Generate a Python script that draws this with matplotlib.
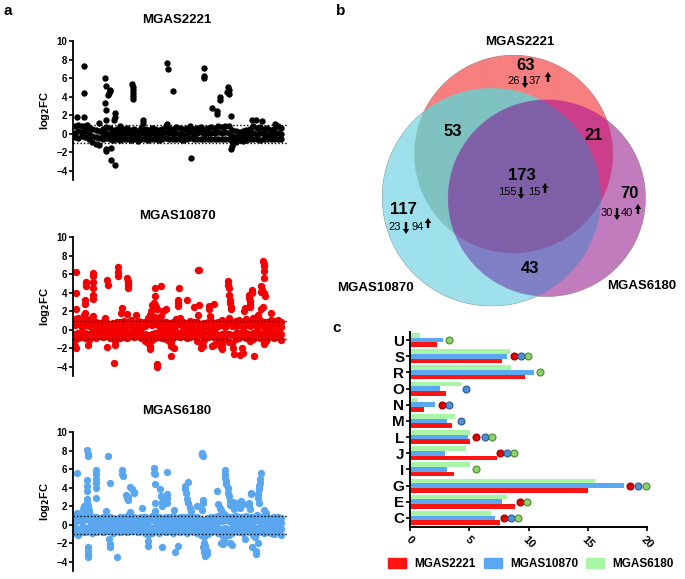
import numpy as np
import matplotlib
matplotlib.use("Agg")
import matplotlib.pyplot as plt
from matplotlib.patches import Patch, FancyArrow

plt.rcParams['font.family'] = ['Liberation Sans', 'DejaVu Sans']

W, H = 685, 579

# ---- panel a: log2 fold change per gene (band = bulk of genes, out = outliers)
a1_hi = [0.8, 1.0, 0.9, 0.9, 0.6, 0.5, 0.4, 0.3, 0.5, 0.7, 0.6, 0.4, 0.5, 0.4, 0.5, 0.6, 0.4, 0.5, 0.3, 0.6,
         0.5, 0.4, 0.6, 0.5, 0.4, 0.5, 0.9, 0.6, 0.5, 0.7, 0.6, 0.5, 0.6, 0.8, 0.5, 0.6, 0.7, 0.5, 0.6, 0.7,
         0.6, 0.8, 0.7, 0.9, 0.8, 0.4, 0.3, 0.2, 0.3, 0.4, 0.5, 0.8, 0.6, 0.7, 0.5, 0.6, 0.4, 0.5, 0.8, 0.6]
a1_mid = [0.1, 0.3, 0.2, 0.3, 0.0, -0.2, -0.3, -0.4, 0.0, 0.1, 0.0, -0.1, 0.0, -0.1, 0.0, 0.1, -0.1, 0.0, -0.2, 0.1,
          0.0, -0.1, 0.1, 0.0, -0.1, 0.0, 0.2, 0.1, 0.0, 0.1, 0.0, -0.1, 0.1, 0.2, 0.0, 0.1, 0.2, 0.0, 0.1, 0.1,
          0.1, 0.2, 0.1, 0.2, 0.1, -0.2, -0.3, -0.3, -0.2, -0.1, 0.0, 0.1, 0.0, 0.1, 0.0, 0.0, -0.1, 0.0, 0.1, 0.0]
a1_lo = [-0.3, -0.4, -0.2, -0.3, -0.6, -0.9, -1.1, -1.2, -0.5, -0.4, -0.5, -0.7, -0.6, -0.7, -0.6, -0.5, -0.7, -0.6, -0.8, -0.5,
         -0.6, -0.7, -0.5, -0.6, -0.7, -0.6, -0.4, -0.5, -0.6, -0.5, -0.6, -0.7, -0.5, -0.4, -0.6, -0.5, -0.5, -0.6, -0.5, -0.6,
         -0.5, -0.6, -0.5, -0.6, -0.6, -0.8, -0.9, -0.7, -0.8, -0.7, -0.6, -0.6, -0.5, -0.7, -0.6, -0.5, -0.6, -0.5, -0.6, -0.5]
a1_out_x = [0.7, 2.7, 2.7, 2.7, 6.9, 8.6, 8.8, 8.5, 8.8, 9.0, 9.6, 9.8, 10.0, 10.2, 11.4, 11.5, 11.3, 8.8, 9.0, 10.4,
            10.3, 11.4, 16.4, 16.5, 16.6, 16.6, 16.7, 16.7, 19.4, 19.5, 26.4, 26.6, 28.1, 36.8, 37.0, 37.0, 39.3, 40.5, 40.7, 41.6,
            41.6, 43.7, 43.9, 43.9, 43.6, 44.5, 44.8, 44.6, 33.2, 50.6, 51.8, 53.4, 57.2, 26.3, 3.5, 13.0]
a1_out_y = [1.85, 7.28, 4.38, 1.85, 1.2, 6.05, 5.2, 3.3, 2.57, 1.5, 4.2, 4.4, 4.6, 4.7, 2.2, 1.85, 1.5, -1.67, -1.85, -1.5,
            -2.86, -3.4, 5.33, 5.0, 4.7, 4.4, 4.1, 3.8, 1.5, 1.2, 7.68, 6.96, 4.64, 7.07, 6.27, 6.05, 2.75, 2.5, 2.14, 3.95,
            3.6, 5.0, 4.67, 4.3, 4.5, 1.95, -1.3, -1.67, -2.57, 1.5, 1.5, 1.4, 1.1, 1.1, 1.0, 0.9]

a2_hi = [1.2, 1.3, 0.9, 1.3, 1.1, 1.3, 0.8, 0.7, 0.9, 0.8, 0.6, 0.7, 0.8, 0.9, 1.0, 0.9, 1.1, 0.7, 1.0, 0.8,
         0.9, 1.3, 1.2, 1.4, 1.0, 0.9, 0.8, 0.7, 0.9, 1.2, 1.3, 0.8, 0.7, 1.0, 0.9, 0.8, 0.6, 0.7, 0.9, 1.0,
         0.7, 0.9, 1.1, 0.8, 1.3, 0.9, 1.0, 1.1, 0.8, 1.2, 0.9, 1.3, 0.8, 1.1, 0.8, 0.9, 1.1, 1.0, 1.1, 0.9]
a2_mhi = [0.5, 0.6, 0.3, 0.5, 0.4, 0.6, 0.3, 0.2, 0.4, 0.3, 0.2, 0.3, 0.4, 0.3, 0.5, 0.4, 0.5, 0.3, 0.4, 0.2,
          0.4, 0.6, 0.5, 0.6, 0.4, 0.3, 0.3, 0.2, 0.4, 0.5, 0.6, 0.3, 0.2, 0.4, 0.4, 0.3, 0.1, 0.3, 0.4, 0.4,
          0.2, 0.4, 0.5, 0.3, 0.6, 0.4, 0.4, 0.5, 0.3, 0.5, 0.4, 0.6, 0.3, 0.5, 0.3, 0.4, 0.5, 0.4, 0.5, 0.3]
a2_mlo = [-0.4, -0.3, -0.2, -0.3, -0.4, -0.2, -0.3, -0.2, -0.3, -0.2, -0.3, -0.3, -0.2, -0.3, -0.2, -0.3, -0.2, -0.3, -0.2, -0.3,
          -0.4, -0.5, -0.4, -0.3, -0.2, -0.3, -0.3, -0.4, -0.3, -0.2, -0.3, -0.2, -0.3, -0.3, -0.2, -0.4, -0.5, -0.4, -0.3, -0.2,
          -0.3, -0.5, -0.4, -0.3, -0.4, -0.5, -0.3, -0.3, -0.2, -0.3, -0.4, -0.3, -0.2, -0.3, -0.4, -0.3, -0.2, -0.3, -0.2, -0.4]
a2_lo = [-1.1, -0.9, -0.8, -0.9, -1.1, -0.8, -0.9, -0.7, -0.8, -0.7, -0.9, -0.8, -0.7, -0.9, -0.8, -0.9, -0.7, -0.8, -0.7, -0.9,
         -1.2, -1.4, -1.1, -0.9, -0.8, -0.9, -1.0, -1.2, -0.9, -0.7, -0.8, -0.7, -0.9, -0.8, -0.7, -1.2, -1.4, -1.1, -0.8, -0.7,
         -0.9, -1.4, -1.2, -0.9, -1.3, -1.4, -1.0, -0.9, -0.7, -0.9, -1.2, -1.0, -0.8, -0.9, -1.2, -1.0, -0.7, -0.9, -0.8, -1.1]
a2_out_x = [0.4, 0.4, 0.4, 0.0, 0.4, 3.1, 3.2, 3.3, 2.9, 2.9, 2.9, 2.5, 5.2, 5.2, 5.2, 5.3, 5.3, 5.3, 5.3, 3.9,
            8.6, 9.1, 9.6, 9.1, 11.3, 11.4, 11.6, 12.3, 12.4, 12.4, 13.2, 13.6, 15.0, 15.1, 15.1, 15.2, 15.2, 15.0, 17.6, 21.6,
            21.8, 22.0, 22.5, 22.8, 23.1, 23.4, 21.6, 21.6, 23.0, 23.0, 23.6, 23.5, 24.7, 25.3, 26.1, 24.7, 27.6, 27.4, 27.6, 28.3,
            29.5, 29.6, 29.6, 29.8, 32.1, 34.0, 35.2, 35.4, 35.1, 35.6, 36.0, 36.5, 36.0, 38.3, 38.3, 38.6, 39.9, 39.2, 39.7, 41.9,
            42.1, 41.7, 43.7, 43.7, 44.0, 44.2, 44.4, 44.7, 44.7, 44.0, 45.2, 45.5, 47.1, 48.3, 48.6, 48.1, 47.8, 49.8, 49.8, 50.0,
            50.1, 50.1, 50.5, 50.6, 51.1, 52.1, 52.3, 53.1, 53.4, 53.1, 53.7, 53.9, 54.0, 54.0, 54.0, 53.7, 53.2, 53.9, 54.2, 56.0,
            54.6, 54.1]
a2_out_y = [6.2, 3.94, 2.3, -1.76, -1.94, 5.2, 4.95, 4.7, 3.26, 2.8, 1.8, 1.6, 6.1, 5.85, 5.2, 4.5, 3.8, 3.3, 1.47, -1.65,
            1.3, 5.4, 4.87, -1.86, -3.55, -1.2, -1.58, 6.77, 6.27, 5.77, 1.83, 2.37, 5.6, 5.3, 5.05, 4.8, 4.5, 1.7, 1.58, 1.65,
            2.0, 2.72, 2.9, 2.65, 2.44, 2.2, -1.76, -2.1, 4.5, 3.6, -3.65, -4.0, 4.7, 2.0, 2.3, 1.47, -2.83, -1.76, -1.4, -1.94,
            3.26, 2.9, 2.54, 4.5, 3.26, 2.44, 6.5, 6.4, 1.65, 2.65, -1.4, -1.76, -1.94, 2.54, 2.2, 1.47, 2.8, -1.76, -1.58, -2.1,
            -1.58, -1.86, 5.23, 4.87, 4.5, 3.26, 2.9, 2.44, 2.2, 3.8, -1.94, -2.65, -2.7, 2.08, 2.37, -2.47, -1.94, 3.8, 3.44, 3.08,
            2.8, 2.47, 4.34, 3.98, -2.83, 1.1, 1.6, 4.7, 4.34, 4.1, 7.38, 7.1, 6.85, 6.3, 5.6, 2.47, 2.3, 3.98, 3.6, 1.83,
            -1.2, -1.5]

a3_hi = [0.9, 1.2, 0.8, 1.4, 1.3, 0.9, 0.8, 0.7, 0.8, 0.7, 0.8, 0.7, 0.6, 0.9, 0.8, 0.9, 1.0, 0.8, 0.7, 0.9,
         0.8, 0.7, 1.0, 0.9, 0.8, 0.7, 0.9, 0.8, 1.0, 0.7, 0.8, 0.9, 0.8, 1.0, 0.9, 0.8, 0.6, 0.5, 0.7, 0.8,
         0.9, 1.0, 0.9, 1.1, 0.9, 0.8, 1.0, 0.9, 0.8, 1.0, 0.9, 0.8, 1.1, 0.9, 1.0, 0.8, 0.7, 0.8, 0.9, 0.7]
a3_mhi = [0.3, 0.5, 0.3, 0.6, 0.5, 0.4, 0.3, 0.3, 0.4, 0.3, 0.4, 0.3, 0.2, 0.4, 0.3, 0.4, 0.5, 0.3, 0.3, 0.4,
          0.3, 0.3, 0.5, 0.4, 0.3, 0.3, 0.4, 0.3, 0.4, 0.3, 0.3, 0.4, 0.3, 0.4, 0.4, 0.3, 0.2, 0.1, 0.3, 0.3,
          0.4, 0.4, 0.4, 0.5, 0.4, 0.3, 0.4, 0.4, 0.3, 0.4, 0.4, 0.3, 0.5, 0.4, 0.4, 0.3, 0.2, 0.3, 0.3, 0.2]
a3_mlo = [-0.3, -0.4, -0.3, -0.3, -0.2, -0.3, -0.3, -0.2, -0.3, -0.2, -0.2, -0.3, -0.2, -0.3, -0.2, -0.3, -0.2, -0.2, -0.3, -0.2,
          -0.3, -0.4, -0.3, -0.2, -0.3, -0.2, -0.3, -0.2, -0.3, -0.2, -0.3, -0.2, -0.3, -0.2, -0.3, -0.3, -0.5, -0.6, -0.4, -0.3,
          -0.2, -0.3, -0.4, -0.3, -0.4, -0.3, -0.2, -0.3, -0.3, -0.2, -0.3, -0.4, -0.3, -0.2, -0.3, -0.3, -0.3, -0.4, -0.3, -0.4]
a3_lo = [-0.9, -1.1, -0.8, -0.8, -0.7, -0.9, -0.8, -0.7, -0.8, -0.7, -0.7, -0.9, -0.7, -0.8, -0.7, -0.8, -0.7, -0.7, -0.8, -0.7,
         -0.9, -1.1, -0.9, -0.7, -0.9, -0.7, -0.8, -0.7, -0.9, -0.7, -0.8, -0.7, -0.9, -0.7, -0.8, -0.9, -1.1, -1.3, -1.0, -0.8,
         -0.7, -0.9, -1.1, -0.8, -1.1, -0.9, -0.7, -0.8, -0.9, -0.7, -0.8, -1.1, -0.9, -0.7, -0.9, -0.8, -0.9, -1.0, -0.8, -1.1]
a3_out_x = [0.7, 0.7, 3.5, 3.7, 3.7, 3.4, 3.4, 3.4, 3.5, 3.6, 3.7, 3.7, 2.6, 2.3, 3.9, 3.9, 3.8, 3.9, 6.0, 6.0,
            6.1, 6.1, 6.0, 6.0, 4.1, 9.6, 10.2, 9.0, 9.8, 10.0, 10.0, 12.2, 13.6, 13.6, 13.8, 14.6, 14.8, 15.1, 15.2, 15.9,
            16.4, 16.8, 17.0, 15.9, 15.4, 19.2, 20.9, 20.9, 22.7, 22.7, 22.8, 22.8, 23.0, 22.8, 24.4, 24.6, 24.9, 24.9, 24.9, 26.2,
            26.4, 26.4, 26.4, 28.2, 28.7, 29.5, 31.4, 31.6, 31.8, 32.1, 32.4, 32.3, 32.8, 33.1, 35.0, 36.4, 36.4, 36.6, 36.6, 36.6,
            36.4, 37.0, 37.2, 37.2, 37.0, 37.2, 36.6, 37.9, 37.9, 40.7, 41.0, 41.4, 41.7, 42.2, 41.7, 42.2, 42.7, 43.0, 43.0, 43.0,
            43.1, 43.2, 43.8, 43.8, 44.0, 44.3, 44.3, 44.3, 44.8, 45.1, 45.3, 45.5, 46.5, 46.8, 47.1, 47.5, 48.0, 48.5, 49.7, 49.7,
            49.9, 50.2, 50.2, 50.7, 51.2, 51.4, 51.8, 51.8, 52.2, 52.2, 52.5, 52.7, 52.9, 53.0, 53.2, 52.7, 52.2, 53.9, 54.6]
a3_out_y = [5.54, 1.3, 8.1, 7.6, 7.4, 4.8, 4.18, 3.64, 2.82, 2.4, 2.04, 1.75, 2.04, 1.75, -2.43, -2.8, -3.14, -3.5, 5.96, 5.43,
            4.9, 4.54, 4.0, 2.93, 1.6, 7.4, 4.54, 1.5, -1.54, -2.07, -2.43, -3.46, 5.96, 5.43, 5.25, 3.18, 2.93, 2.68, 3.0, 4.1,
            3.82, 3.57, 3.4, 1.4, 1.14, 1.86, -1.7, -2.25, 6.14, 5.6, 5.43, 4.36, 2.4, 1.5, 3.82, 3.1, 2.46, 2.04, -2.43, 5.68,
            3.28, 2.93, 2.4, 1.6, -2.96, -2.25, 4.18, 3.82, 3.4, 2.75, 2.4, 4.6, 1.86, 1.5, 2.04, 7.75, 7.5, 7.4, 2.68, 2.4,
            1.6, -1.9, -2.25, -2.6, -2.96, -3.3, -2.43, -2.8, -3.14, 3.64, 2.2, 1.86, 1.6, 1.3, -1.9, -2.07, -1.54, 5.86, 5.43, 5.07,
            4.7, 4.36, 4.0, 3.46, 3.1, 2.57, 2.1, -1.9, -2.18, 2.46, 2.1, 1.75, 2.4, 2.1, 1.86, 2.57, 2.2, -1.54, 2.4, 2.04,
            1.75, 3.46, 3.3, -2.43, -0.8, -1.36, -2.8, -3.14, 2.93, 3.28, 3.82, 4.18, 4.54, 4.9, 5.6, 2.4, -1.9, 1.6, 1.3]

# ---- panel b: venn counts
venn_names = ['MGAS2221', 'MGAS10870', 'MGAS6180']
venn_totals = {'r': 63, 'rc': 53, 'rm': 21, 'rcm': 173, 'c': 117, 'm': 70, 'cm': 43}
venn_updown = {'r': (26, 37), 'rcm': (155, 15), 'c': (23, 94), 'm': (30, 40)}

# ---- panel c: COG categories, % of genes
cog_cats = ['C', 'E', 'G', 'I', 'J', 'L', 'M', 'N', 'O', 'R', 'S', 'U']
pct_2221 = [7.6, 8.9, 15.05, 3.7, 7.3, 5.1, 3.55, 1.2, 3.0, 9.7, 7.8, 2.25]
pct_10870 = [7.2, 7.8, 18.05, 3.15, 2.95, 4.9, 3.15, 2.15, 2.55, 10.5, 8.2, 2.75]
pct_6180 = [6.8, 8.2, 15.65, 5.1, 4.75, 5.1, 3.8, 0.65, 4.3, 8.55, 8.4, 0.85]
nan = np.nan
sig_2221 = [7.95, 9.25, 18.55, nan, 7.6, 5.55, nan, 2.7, nan, nan, 8.75, nan]
sig_10870 = [8.55, nan, 19.2, nan, 8.2, 6.3, 4.3, 3.3, 4.75, nan, 9.35, nan]
sig_6180 = [9.15, 9.85, 19.9, 5.55, 8.8, 6.9, nan, nan, nan, 11.0, 9.95, 3.25]

fig = plt.figure(figsize=(W / 100, H / 100), dpi=100)


def px_axes(x0, y0, x1, y1):
    return fig.add_axes([x0 / W, 1 - y1 / H, (x1 - x0) / W, (y1 - y0) / H])


def ftext(x, y, s, **kw):
    fig.text(x / W, 1 - y / H, s, **kw)


# ---------- panel a
panels = [
    (41, 'MGAS2221', 'black', 21, [a1_hi, a1_mid, a1_lo], a1_out_x, a1_out_y),
    (237, 'MGAS10870', '#f50000', 28, [a2_hi, a2_mhi, a2_mlo, a2_lo], a2_out_x, a2_out_y),
    (432, 'MGAS6180', '#5ba7ef', 28, [a3_hi, a3_mhi, a3_mlo, a3_lo], a3_out_x, a3_out_y),
]
for top, name, col, ms, band, ox, oy in panels:
    ax = px_axes(73, top, 287, top + 139.3)
    for row in band:
        ax.scatter(np.arange(len(row)), row, s=ms, color=col, linewidths=0, zorder=2)
    ax.scatter(ox, oy, s=ms, color=col, linewidths=0, zorder=2)
    ax.axhline(1, color='k', lw=1, ls=(0, (1, 1.5)), zorder=3)
    ax.axhline(-1, color='k', lw=1, ls=(0, (1, 1.5)), zorder=3)
    ax.set_xlim(-0.5, 60.6)
    ax.set_ylim(-5, 10)
    for s in ['top', 'right', 'bottom']:
        ax.spines[s].set_visible(False)
    ax.spines['left'].set_linewidth(1.3)
    ax.set_xticks([])
    ax.set_yticks(range(-4, 11, 2))
    ax.tick_params(axis='y', length=3, width=1.2, pad=1, labelsize=7)
    for lab in ax.get_yticklabels():
        lab.set_fontweight('bold')
    ax.set_ylabel(r'log$_\mathbf{2}$FC', fontsize=8, fontweight='bold', labelpad=3)
    ax.patch.set_alpha(0)
    ftext(177, top - 21, name, ha='center', va='center', fontsize=9.5, fontweight='bold')

ftext(8, 11, 'a', ha='center', va='center', fontsize=11, fontweight='bold')
ftext(341, 11, 'b', ha='center', va='center', fontsize=11, fontweight='bold')
ftext(337, 328, 'c', ha='center', va='center', fontsize=11, fontweight='bold')

# ---------- panel b: venn (axes in pixel units)
axv = px_axes(330, 0, 685, 320)
axv.set_xlim(330, 685)
axv.set_ylim(320, 0)
axv.axis('off')

circles = {'r': (513, 154, 99), 'c': (491, 197, 109), 'm': (546, 198, 98.5)}
region_cols = {1: '#f77f7f', 2: '#9ee1ec', 3: '#80c2c2', 4: '#c27cbd',
               5: '#cc3e8a', 6: '#8080c6', 7: '#8060a8'}
gx = np.arange(370, 660, 0.25)
gy = np.arange(40, 320, 0.25)
X, Y = np.meshgrid(gx, gy)
code = np.zeros(X.shape, dtype=int)
for bit, key in [(1, 'r'), (2, 'c'), (4, 'm')]:
    cx, cy, r = circles[key]
    code += bit * (((X - cx) ** 2 + (Y - cy) ** 2) < r ** 2)
img = np.zeros(X.shape + (4,))
for k, c in region_cols.items():
    img[code == k] = matplotlib.colors.to_rgba(c)
axv.imshow(img, extent=(370, 660, 320, 40), interpolation='antialiased', zorder=1)

big = {'r': (526, 66), 'rc': (453, 132), 'rm': (594, 135), 'rcm': (522, 176),
       'c': (403, 209), 'm': (629, 193), 'cm': (530, 269)}
for key, (x, y) in big.items():
    axv.text(x, y, str(venn_totals[key]), ha='center', va='center', fontsize=12, fontweight='bold', zorder=3)

# (down-label x, down-arrow x, up-label x, up-arrow x, text y)
small = {'r': (514, 525, 535, 548, 81), 'rcm': (507, 521, 534, 545, 192),
         'c': (395, 406, 418, 428, 227), 'm': (607, 617, 627, 638, 213)}
for key, (xd, ad, xu, au, y) in small.items():
    dn, up = venn_updown[key]
    axv.text(xd, y, str(dn), ha='center', va='center', fontsize=8, zorder=3)
    axv.text(xu, y, str(up), ha='center', va='center', fontsize=8, zorder=3)
    axv.add_patch(FancyArrow(ad, y - 5, 0, 12, width=2.4, head_width=6.5, head_length=5,
                             length_includes_head=True, color='k', lw=0, zorder=3))
    axv.add_patch(FancyArrow(au, y + 1, 0, -10, width=2.4, head_width=6.5, head_length=5,
                             length_includes_head=True, color='k', lw=0, zorder=3))

axv.text(520, 42, venn_names[0], ha='center', va='center', fontsize=9.5, fontweight='bold')
axv.text(375, 288, venn_names[1], ha='center', va='center', fontsize=9.5, fontweight='bold')
axv.text(642, 286, venn_names[2], ha='center', va='center', fontsize=9.5, fontweight='bold')

# ---------- panel c: horizontal bars
axc = px_axes(410, 332, 647, 527)
yy = np.arange(len(cog_cats))
bh = 0.29
c_red, c_blue, c_green = '#ff1414', '#5aa8f2', '#a8f5a8'
axc.barh(yy - bh, pct_2221, height=bh, color=c_red, zorder=2)
axc.barh(yy, pct_10870, height=bh, color=c_blue, zorder=2)
axc.barh(yy + bh, pct_6180, height=bh, color=c_green, zorder=2)
axc.plot(sig_2221, yy, 'o', ms=5, mfc='#e00000', mec='#900000', mew=0.8, zorder=3, clip_on=False)
axc.plot(sig_10870, yy, 'o', ms=5, mfc='#4f8fd4', mec='#2a5c96', mew=0.8, zorder=3, clip_on=False)
axc.plot(sig_6180, yy, 'o', ms=5, mfc='#8ed06c', mec='#4a8a2c', mew=0.8, zorder=3, clip_on=False)
axc.set_xlim(0, 20)
axc.set_ylim(-0.56, 11.5)
axc.set_yticks(yy)
axc.set_yticklabels(cog_cats, fontsize=11, fontweight='bold')
axc.set_xticks([0, 5, 10, 15, 20])
axc.set_xticklabels(['0', '5', '10', '15', '20'], rotation=-45, ha='center', fontsize=8, fontweight='bold')
axc.tick_params(axis='y', length=3, width=1.2, pad=1)
axc.tick_params(axis='x', length=3, width=1.2, pad=2)
for s in ['top', 'right']:
    axc.spines[s].set_visible(False)
axc.spines['left'].set_linewidth(1.4)
axc.spines['bottom'].set_linewidth(1.4)
axc.patch.set_alpha(0)

handles = [Patch(color=c_red), Patch(color=c_blue), Patch(color=c_green)]
fig.legend(handles, venn_names, ncol=3, loc='center', bbox_to_anchor=(531 / W, 1 - 564 / H),
           frameon=False, handlelength=1.5, handleheight=0.9, handletextpad=0.7, columnspacing=0.7,
           prop={'weight': 'bold', 'size': 8.5})

fig.savefig('out.png', dpi=100)
